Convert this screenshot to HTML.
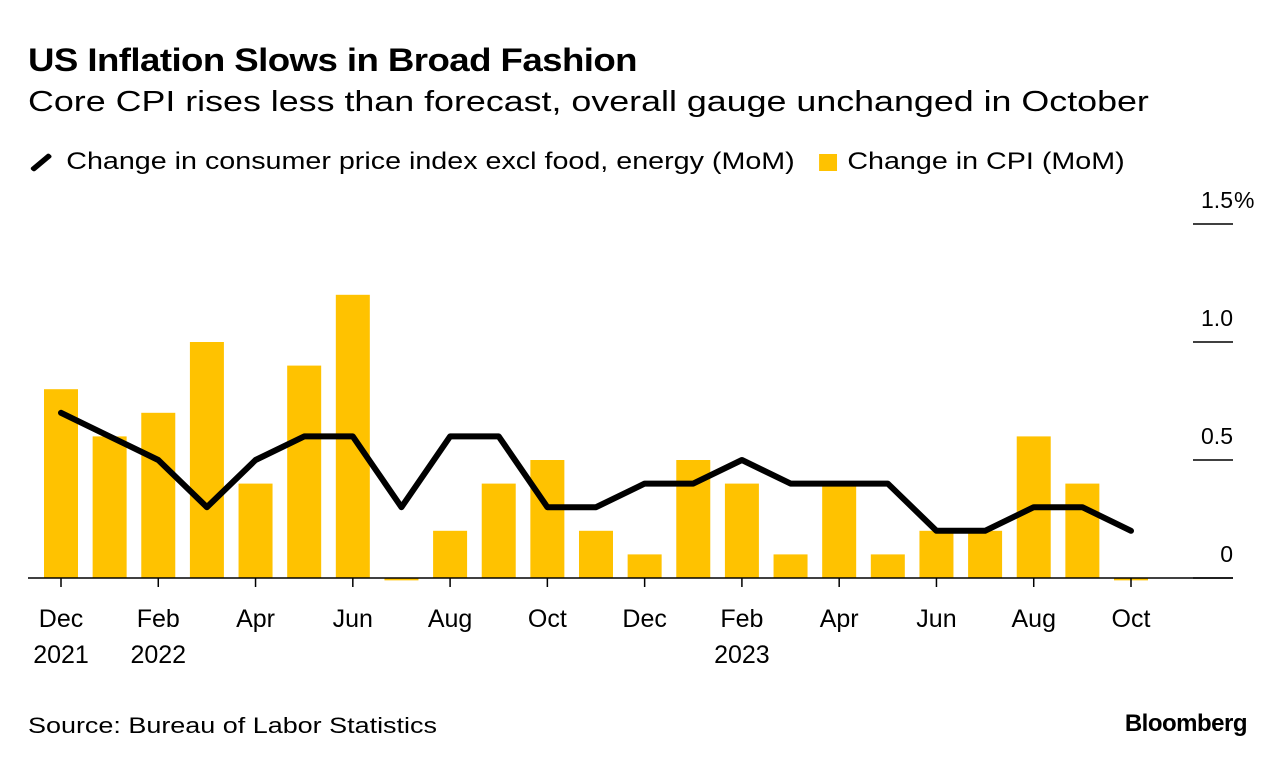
<!DOCTYPE html>
<html><head><meta charset="utf-8"><style>
body{margin:0;background:#fff;font-family:"Liberation Sans",sans-serif;width:1285px;height:768px;overflow:hidden;position:relative}
.t{position:absolute;left:28px;white-space:nowrap;color:#000;transform-origin:0 0}
</style></head><body>
<div class="t" style="top:42px;font-size:32px;font-weight:bold;letter-spacing:-0.5px;transform:scaleX(1.145)">US Inflation Slows in Broad Fashion</div>
<div class="t" style="top:86px;font-size:29px;transform:scaleX(1.235)">Core CPI rises less than forecast, overall gauge unchanged in October</div>
<div class="t" style="top:148px;font-size:24px;display:flex;align-items:center;transform:scaleX(1.195)">
<span style="display:inline-block;width:22px;height:5px;background:#000;transform:rotate(-45deg);margin-right:10px;border-radius:2px"></span>
<span>Change in consumer price index excl food, energy (MoM)</span>
<span style="display:inline-block;width:15px;height:17px;background:#ffc200;margin:0 9px 0 20px"></span>
<span>Change in CPI (MoM)</span>
</div>
<svg id="c" width="1285" height="768" style="position:absolute;left:0;top:0"></svg>
<div class="t" style="top:713px;font-size:22px;transform:scaleX(1.225)">Source: Bureau of Labor Statistics</div>
<div class="t" style="top:710px;left:auto;right:38px;font-size:24px;font-weight:bold;letter-spacing:-0.5px">Bloomberg</div>
<script>
const months=["Dec","Jan","Feb","Mar","Apr","May","Jun","Jul","Aug","Sep","Oct","Nov","Dec","Jan","Feb","Mar","Apr","May","Jun","Jul","Aug","Sep","Oct"];
const cpi=[0.8,0.6,0.7,1.0,0.4,0.9,1.2,-0.01,0.2,0.4,0.5,0.2,0.1,0.5,0.4,0.1,0.4,0.1,0.2,0.2,0.6,0.4,-0.01];
const core=[0.7,0.6,0.5,0.3,0.5,0.6,0.6,0.3,0.6,0.6,0.3,0.3,0.4,0.4,0.5,0.4,0.4,0.4,0.2,0.2,0.3,0.3,0.2];
const yTicks=[0,0.5,1.0,1.5];
const yTickLabels=["0","0.5","1.0","1.5"];
const xLabels=[[0,"Dec","2021"],[2,"Feb","2022"],[4,"Apr",""],[6,"Jun",""],[8,"Aug",""],[10,"Oct",""],[12,"Dec",""],[14,"Feb","2023"],[16,"Apr",""],[18,"Jun",""],[20,"Aug",""],[22,"Oct",""]];
const svg=document.getElementById('c');const NS="http://www.w3.org/2000/svg";
const x=i=>61+i*(1131-61)/22;const y=v=>578-v*236;
function mk(t,a,p){const e=document.createElementNS(NS,t);for(const k in a)e.setAttribute(k,a[k]);(p||svg).appendChild(e);return e;}
yTicks.forEach((v,i)=>{
const l=mk('line',{x1:1193,x2:1233,y1:y(v),y2:y(v),stroke:'#000','stroke-width':1.5});


const t=mk('text',{x:1233,y:y(v)-16,'text-anchor':'end','font-size':23,'font-family':'Liberation Sans, sans-serif'});
t.textContent=yTickLabels[i];


if(i===yTicks.length-1){const pc=mk('text',{x:1234,y:y(v)-16,'font-size':23,'font-family':'Liberation Sans, sans-serif'});
pc.textContent='%';

}
});
cpi.forEach((v,i)=>{
const top=Math.min(y(v),y(0)),h=Math.max(Math.abs(y(v)-y(0)),1.5);
const r=mk('rect',{x:x(i)-17,y:top,width:34,height:h,fill:'#ffc200'});


});
const ax=mk('line',{x1:28,x2:1233,y1:y(0),y2:y(0),stroke:'#000','stroke-width':1.5});


xLabels.forEach(([i,m,yr])=>{
const tk=mk('line',{x1:x(i),x2:x(i),y1:y(0),y2:y(0)+9,stroke:'#000','stroke-width':1.5});


const t=mk('text',{x:x(i),y:627,'text-anchor':'middle','font-size':25,'font-family':'Liberation Sans, sans-serif'});
t.textContent=m;


if(yr){const t2=mk('text',{x:x(i),y:663,'text-anchor':'middle','font-size':25,'font-family':'Liberation Sans, sans-serif'});
t2.textContent=yr;

}
});
const p=mk('polyline',{points:core.map((v,i)=>x(i)+','+y(v)).join(' '),fill:'none',stroke:'#000','stroke-width':6,'stroke-linejoin':'round','stroke-linecap':'round'});


</script>
</body></html>
